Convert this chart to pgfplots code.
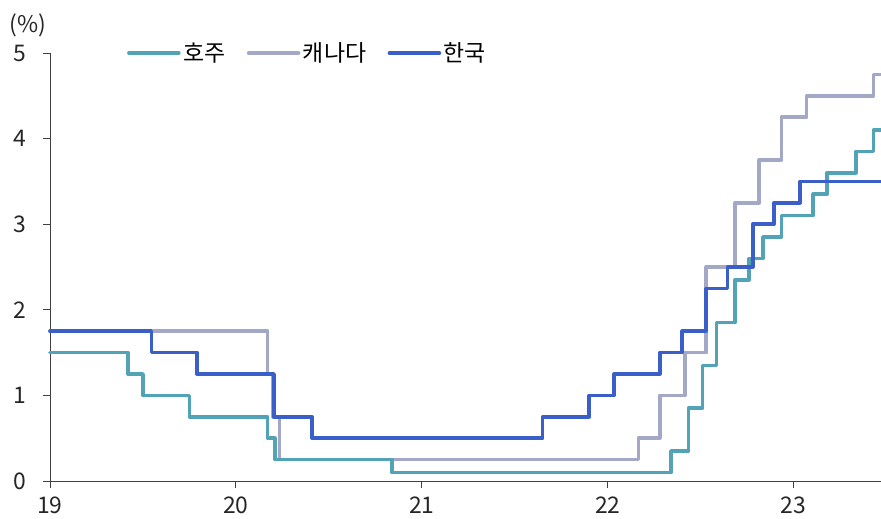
\documentclass[border=0pt]{standalone}
\usepackage{fontspec}
\setmainfont{Noto Sans CJK KR}
\usepackage{pgfplots}
\usepackage{pgfplotstable}
\pgfplotsset{compat=1.18}

\definecolor{auCol}{RGB}{82,163,181}
\definecolor{caCol}{RGB}{162,168,198}
\definecolor{krCol}{RGB}{58,95,200}

% Policy rates (%), step changes by fractional year
\pgfplotstableread{
x y
19.00 1.50
19.42 1.25
19.50 1.00
19.75 0.75
20.17 0.50
20.21 0.25
20.84 0.10
22.34 0.35
22.435 0.85
22.51 1.35
22.586 1.85
22.685 2.35
22.76 2.60
22.835 2.85
22.935 3.10
23.105 3.35
23.18 3.60
23.335 3.85
23.43 4.10
23.47 4.10
}\australia

\pgfplotstableread{
x y
19.00 1.75
20.17 1.25
20.20 0.75
20.235 0.25
22.165 0.50
22.28 1.00
22.415 1.50
22.53 2.50
22.685 3.25
22.815 3.75
22.935 4.25
23.07 4.50
23.43 4.75
23.47 4.75
}\canada

\pgfplotstableread{
x y
19.00 1.75
19.545 1.50
19.79 1.25
20.205 0.75
20.41 0.50
21.65 0.75
21.90 1.00
22.035 1.25
22.28 1.50
22.40 1.75
22.53 2.25
22.645 2.50
22.78 3.00
22.895 3.25
23.035 3.50
23.47 3.50
}\korea

\begin{document}
\begin{tikzpicture}
\path[use as bounding box] (-50bp,-38bp) rectangle (831bp,481bp);
\begin{axis}[
  at={(0,0)}, anchor=south west,
  width=831bp, height=428bp, scale only axis,
  xmin=19, xmax=23.47, ymin=0, ymax=5,
  clip=false,
  axis x line*=bottom, axis y line*=left,
  axis line style={black!75, line width=0.9bp, -},
  tick style={black!75, line width=0.9bp},
  tick align=outside, major tick length=7bp,
  xtick={19,20,21,22,23}, ytick={0,1,2,3,4,5},
  xtick pos=left, ytick pos=left,
  /pgf/number format/assume math mode=true,
  tick label style={font=\fontsize{23}{26}\selectfont, text=black!85},
  yticklabel style={xshift=-13bp},
  xticklabel style={yshift=-5bp},
  legend columns=3,
  legend style={draw=none, fill=none, at={(axis description cs:0.0925,1.0)},
    anchor=west, inner sep=0pt,
    font=\fontsize{23}{26}\selectfont,
    nodes={inner sep=2.5bp},
    /tikz/every even column/.append style={column sep=19bp}},
  legend image code/.code={\draw[#1, line cap=round] (0bp,0bp) -- (50bp,0bp);},
  every axis plot/.append style={const plot, line width=3.6bp, line join=round, line cap=round},
]
\addlegendimage{auCol, line width=3.6bp}\addlegendentry{호주}
\addlegendimage{caCol, line width=3.6bp}\addlegendentry{캐나다}
\addlegendimage{krCol, line width=3.6bp}\addlegendentry{한국}
\addplot[caCol, forget plot] table {\canada};
\addplot[auCol, forget plot] table {\australia};
\addplot[krCol, forget plot] table {\korea};
\node[font=\fontsize{23}{26}\selectfont, text=black!85] at ([xshift=-22bp, yshift=28bp]axis description cs:0,1) {(\%)};
\end{axis}
\end{tikzpicture}
\end{document}
